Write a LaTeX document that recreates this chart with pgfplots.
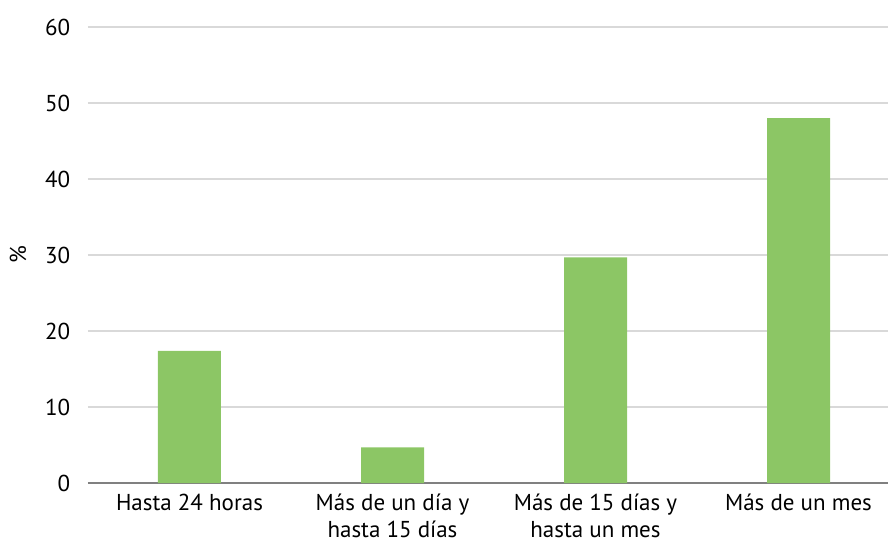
\documentclass[border=0pt]{standalone}
\usepackage{pgfplots}
\pgfplotsset{compat=1.18}
\usepackage{fontspec}
\setmainfont{PT Sans}
\definecolor{bargreen}{HTML}{8CC665}
\definecolor{gridgray}{HTML}{D9D9D9}
\definecolor{axisgray}{HTML}{808080}
\begin{document}
\fontsize{23bp}{27bp}\selectfont
\begin{tikzpicture}
\begin{axis}[
  name=ax,
  scale only axis,
  width=812bp, height=456bp,
  xmin=-0.5, xmax=3.5, ymin=0, ymax=60,
  ytick={0,10,...,60},
  xtick=data,
  xticklabels={Hasta 24 horas, {Más de un día y\\hasta 15 días}, {Más de 15 días y\\hasta un mes}, Más de un mes},
  xticklabel style={align=center, font=\fontsize{23bp}{27bp}\selectfont, anchor=north, yshift=-3bp},
  yticklabel style={font=\fontsize{23bp}{27bp}\selectfont, xshift=-10bp},
  /pgf/number format/assume math mode=true,
  axis lines*=left,
  x axis line style={axisgray, line width=1.2bp, -},
  y axis line style={draw=none},
  major tick style={draw=none},
  ymajorgrids,
  grid style={gridgray, line width=1.2bp},
  ylabel={\%},
  every axis y label/.style={at={(axis description cs:0,0.5)}, xshift=-70bp, rotate=90, anchor=center, font=\fontsize{23bp}{27bp}\selectfont},
]
\addplot[ybar, bar width=63bp, fill=bargreen, draw=none] coordinates {(0,17.4) (1,4.7) (2,29.7) (3,48.0)};
\end{axis}
\pgfresetboundingbox
\path (ax.south west) ++(-88bp,-62bp) rectangle ([shift={(800bp,483bp)}]ax.south west);
\end{tikzpicture}
\end{document}
